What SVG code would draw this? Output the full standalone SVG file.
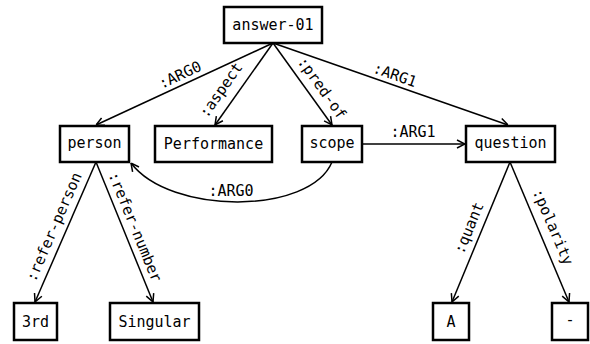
<svg xmlns="http://www.w3.org/2000/svg" width="590" height="344" viewBox="0 0 590 344">
<style>
text{font-family:"DejaVu Sans Mono","Liberation Mono",monospace;font-size:15px;fill:#000;text-anchor:middle;dominant-baseline:central}
.box{fill:#fff;stroke:#000;stroke-width:2.5}
.edge{fill:none;stroke:#000;stroke-width:1.5;marker-end:url(#arr)}
</style>
<defs>
<marker id="arr" viewBox="0 0 10 10" refX="10" refY="5" markerWidth="10" markerHeight="10" markerUnits="userSpaceOnUse" orient="auto">
<path d="M2,1 L10,5 L2,9" fill="none" stroke="#000" stroke-width="1.5"/>
</marker>
</defs>
<g id="connectors">
<path class="edge" d="M273,43 L96,125"/>
<path class="edge" d="M273,43 L215,125"/>
<path class="edge" d="M273,43 L332,125"/>
<path class="edge" d="M273,43 L508,125"/>
<path class="edge" d="M362,144 L465,144"/>
<path class="edge" d="M332,162 C310,215 170,215 131,163"/>
<path class="edge" d="M96,162 L35,302"/>
<path class="edge" d="M96,162 L153,302"/>
<path class="edge" d="M510,162 L452,302"/>
<path class="edge" d="M510,162 L569,302"/>
<text transform="translate(180,75) rotate(-25)">:ARG0</text>
<text transform="translate(221,90) rotate(-55)">:aspect</text>
<text transform="translate(322,88) rotate(54.6)">:pred-of</text>
<text transform="translate(395,75) rotate(19.5)">:ARG1</text>
<text x="413" y="132">:ARG1</text>
<text x="231" y="191">:ARG0</text>
<text transform="translate(54,227) rotate(-66.5)">:refer-person</text>
<text transform="translate(135,227) rotate(67.8)">:refer-number</text>
<text transform="translate(469,228) rotate(-67.5)">:quant</text>
<text transform="translate(553,227) rotate(67)">:polarity</text>
</g>
<g id="answer-01"><rect class="box" x="224" y="7" width="98" height="36"/><text x="273" y="25">answer-01</text></g>
<g id="person"><rect class="box" x="60" y="126" width="69" height="36"/><text x="94.5" y="143">person</text></g>
<g id="Performance"><rect class="box" x="155" y="126" width="117" height="36"/><text x="213.5" y="144">Performance</text></g>
<g id="scope"><rect class="box" x="302" y="126" width="60" height="36"/><text x="332" y="143">scope</text></g>
<g id="question"><rect class="box" x="466" y="126" width="89" height="36"/><text x="510.5" y="143">question</text></g>
<g id="3rd"><rect class="box" x="14" y="303" width="43" height="37"/><text x="35.5" y="322">3rd</text></g>
<g id="Singular"><rect class="box" x="110" y="303" width="89" height="37"/><text x="154.5" y="322">Singular</text></g>
<g id="A"><rect class="box" x="433" y="303" width="36" height="37"/><text x="451" y="322">A</text></g>
<g id="minus"><rect class="box" x="552" y="303" width="36" height="37"/><text x="570" y="320">-</text></g>
</svg>
